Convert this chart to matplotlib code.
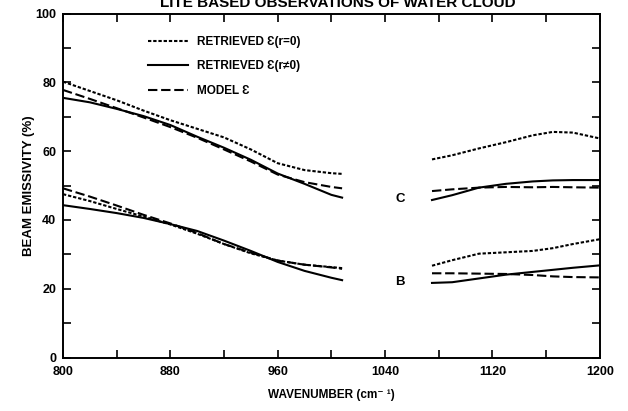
import matplotlib
matplotlib.use("Agg")
from matplotlib import pyplot as plt
from matplotlib.ticker import MultipleLocator

# wavenumber grids (cm-1) for the two spectral windows
wn_left = [800, 820, 840, 860, 880, 900, 920, 940, 960, 980, 1000, 1008]
wn_right = [1075, 1090, 1110, 1130, 1150, 1165, 1180, 1200]

# case C (upper curves)
c_dot_left = [80.2, 77.5, 74.8, 71.8, 69.0, 66.5, 64.0, 60.5, 56.5, 54.5, 53.6, 53.4]
c_sol_left = [75.5, 74.2, 72.3, 70.2, 67.6, 64.2, 61.0, 57.5, 53.5, 50.5, 47.3, 46.5]
c_das_left = [77.8, 75.2, 72.5, 69.8, 67.0, 63.9, 60.5, 57.0, 53.2, 51.0, 49.6, 49.2]
c_dot_right = [57.6, 58.8, 60.8, 62.6, 64.6, 65.6, 65.4, 63.7]
c_sol_right = [45.8, 47.2, 49.4, 50.5, 51.2, 51.5, 51.6, 51.6]
c_das_right = [48.4, 48.9, 49.4, 49.6, 49.5, 49.6, 49.5, 49.4]

# case B (lower curves)
b_dot_left = [47.5, 45.5, 43.2, 41.0, 38.7, 36.0, 33.0, 30.3, 28.2, 27.0, 26.3, 26.0]
b_sol_left = [44.3, 43.2, 42.0, 40.6, 38.8, 36.8, 34.0, 31.0, 27.8, 25.2, 23.2, 22.5]
b_das_left = [49.2, 46.8, 44.2, 41.5, 39.0, 36.2, 33.0, 30.5, 28.2, 27.0, 26.2, 25.8]
b_dot_right = [26.7, 28.3, 30.2, 30.6, 31.0, 31.8, 33.0, 34.4]
b_sol_right = [21.7, 21.9, 23.0, 24.1, 24.9, 25.5, 26.1, 26.8]
b_das_right = [24.5, 24.5, 24.4, 24.3, 24.0, 23.6, 23.4, 23.3]

labels = ["RETRIEVED \u0190(r=0)", "RETRIEVED \u0190(r\u22600)", "MODEL \u0190"]
case_labels = [("C", 1051, 46.1), ("B", 1051, 21.9)]

plt.rcParams['font.family'] = ['Liberation Sans', 'DejaVu Sans']
plt.rcParams['font.weight'] = 'bold'

fig = plt.figure(figsize=(6.28, 4.11), dpi=100)
ax = fig.add_axes([0.1003, 0.130, 0.8547, 0.837])

dot = (0, (1.6, 0.9))
das = (0, (4.5, 1.8))
lw = 1.5

# left window
ax.plot(wn_left, c_dot_left, color='black', lw=lw, linestyle=dot, label=labels[0])
ax.plot(wn_left, c_sol_left, color='black', lw=lw, linestyle='-', label=labels[1])
ax.plot(wn_left, c_das_left, color='black', lw=lw, linestyle=das, label=labels[2])
ax.plot(wn_left, b_dot_left, color='black', lw=lw, linestyle=dot)
ax.plot(wn_left, b_sol_left, color='black', lw=lw, linestyle='-')
ax.plot(wn_left, b_das_left, color='black', lw=lw, linestyle=das)

# right window
ax.plot(wn_right, c_dot_right, color='black', lw=lw, linestyle=dot)
ax.plot(wn_right, c_sol_right, color='black', lw=lw, linestyle='-')
ax.plot(wn_right, c_das_right, color='black', lw=lw, linestyle=das)
ax.plot(wn_right, b_dot_right, color='black', lw=lw, linestyle=dot)
ax.plot(wn_right, b_sol_right, color='black', lw=lw, linestyle='-')
ax.plot(wn_right, b_das_right, color='black', lw=lw, linestyle=das)

for txt, xx, yy in case_labels:
    ax.text(xx, yy, txt, fontsize=9.5, fontweight='bold', ha='center', va='center')

ax.set_xlim(800, 1200)
ax.set_ylim(0, 100)
ax.xaxis.set_major_locator(MultipleLocator(80))
ax.xaxis.set_minor_locator(MultipleLocator(40))
ax.yaxis.set_major_locator(MultipleLocator(20))
ax.yaxis.set_minor_locator(MultipleLocator(10))
ax.tick_params(which='both', direction='in', top=True, right=True,
               length=6, width=1.2, labelsize=9)
ax.tick_params(axis='x', pad=6)
ax.tick_params(axis='y', pad=5)
for lab in ax.get_xticklabels() + ax.get_yticklabels():
    lab.set_fontweight('bold')
for sp in ax.spines.values():
    sp.set_linewidth(1.4)

ax.set_xlabel("WAVENUMBER (cm\u207b \u00b9)", fontsize=8.5, fontweight='bold', labelpad=8)
ax.set_ylabel("BEAM EMISSIVITY (%)", fontsize=9.5, fontweight='bold', labelpad=0)

ax.legend(loc='upper left', bbox_to_anchor=(0.158, 0.935), frameon=False,
          borderpad=0, borderaxespad=0, handlelength=3.4, handletextpad=0.75,
          labelspacing=1.05, prop={'size': 8.5, 'weight': 'bold'})

fig.text(0.538, 0.982, "LITE BASED OBSERVATIONS OF WATER CLOUD", fontsize=11,
         fontweight='bold', ha='center', va='baseline')

plt.savefig('out.png', dpi=100)
